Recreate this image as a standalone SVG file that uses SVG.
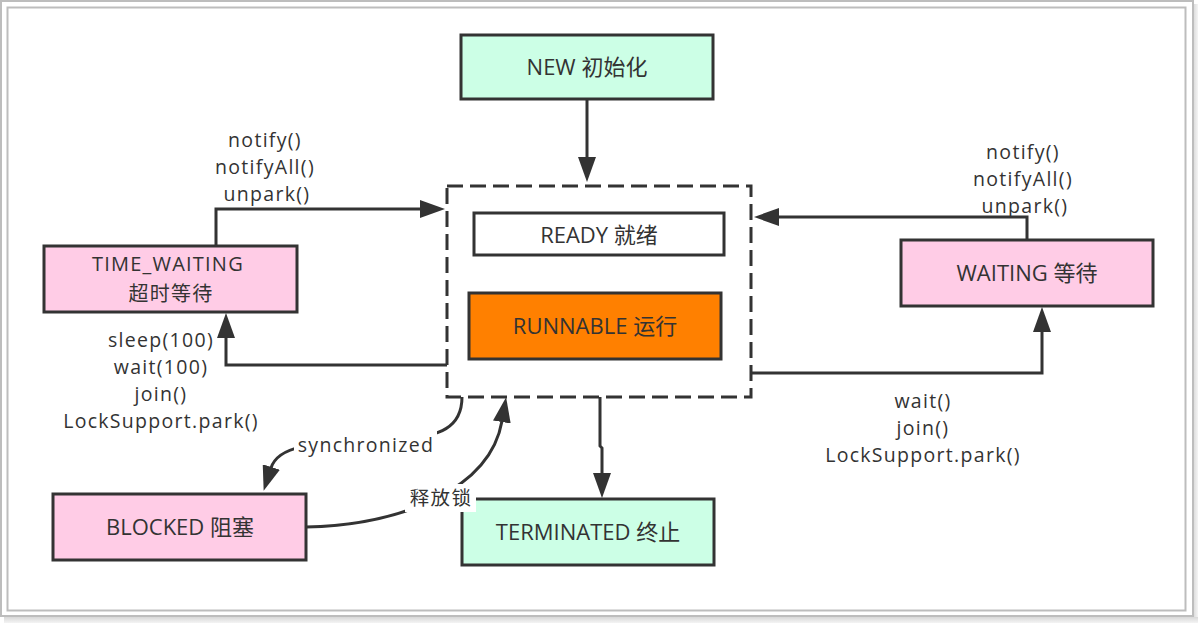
<svg xmlns="http://www.w3.org/2000/svg" width="1198" height="623" viewBox="0 0 1198 623">
<style>
.node{stroke:#333;stroke-width:3}
.t{font-family:"Open Sans","Noto Sans CJK SC",sans-serif;font-size:22px;fill:#333;text-anchor:middle}
.l{font-family:"Open Sans","Noto Sans CJK SC",sans-serif;font-size:19.5px;letter-spacing:1.3px;fill:#333;text-anchor:middle}
.s{font-family:"Open Sans","Noto Sans CJK SC",sans-serif;font-size:20px;letter-spacing:1.2px;fill:#333;text-anchor:middle}
.c{fill:none;stroke:#333;stroke-width:3}
.frame{fill:none;stroke:#bdbdbd;stroke-width:2}
</style>
<defs>
<marker id="ah" markerUnits="userSpaceOnUse" markerWidth="26" markerHeight="18" refX="1" refY="9" orient="auto" viewBox="0 0 26 18">
<path d="M0,0 L25,9 L0,18 z" fill="#333"/>
</marker>
<linearGradient id="shR" x1="0" y1="0" x2="1" y2="0"><stop offset="0" stop-color="#d8d8d8"/><stop offset="1" stop-color="#f4f4f4"/></linearGradient>
<linearGradient id="shB" x1="0" y1="0" x2="0" y2="1"><stop offset="0" stop-color="#d8d8d8"/><stop offset="1" stop-color="#f4f4f4"/></linearGradient>
</defs>
<rect width="1198" height="623" fill="#fff"/>
<rect x="1193" y="4" width="5" height="619" fill="url(#shR)"/>
<rect x="4" y="617" width="1194" height="6" fill="url(#shB)"/>
<rect class="frame" x="1" y="1" width="1192" height="615"/>
<rect class="frame" x="7.5" y="7.5" width="1178" height="603"/>

<g id="container">
<rect x="447" y="186" width="304" height="211" fill="none" stroke="#333" stroke-width="3" stroke-dasharray="16 7"/>
</g>
<g id="new"><rect class="node" x="461" y="35" width="252" height="64" fill="#ccffe6"/><text class="t" x="587" y="75">NEW 初始化</text></g>
<g id="ready"><rect class="node" x="474" y="213" width="250" height="42" fill="#fff"/><text class="t" x="599" y="243">READY 就绪</text></g>
<g id="runnable"><rect class="node" x="469" y="293" width="252" height="66" fill="#ff8000"/><text class="t" x="595" y="334">RUNNABLE 运行</text></g>
<g id="time_waiting"><rect class="node" x="44" y="246" width="253" height="66" fill="#ffcce6"/><text class="s" x="168" y="271">TIME_WAITING</text><text class="s" x="171" y="301">超时等待</text></g>
<g id="waiting"><rect class="node" x="901" y="240" width="252" height="66" fill="#ffcce6"/><text class="t" x="1027" y="281">WAITING 等待</text></g>
<g id="blocked"><rect class="node" x="53" y="494" width="253" height="66" fill="#ffcce6"/><text class="t" x="180" y="535">BLOCKED 阻塞</text></g>
<g id="terminated"><rect class="node" x="462" y="499" width="252" height="66" fill="#ccffe6"/><text class="t" x="588" y="540">TERMINATED 终止</text></g>

<g id="connectors">
<path class="c" d="M587,100 V158" marker-end="url(#ah)"/>
<path class="c" d="M216,246 V209 H421" marker-end="url(#ah)"/>
<path class="c" d="M1027,240 V217 H778" marker-end="url(#ah)"/>
<path class="c" d="M447,365 H226 V337" marker-end="url(#ah)"/>
<path class="c" d="M751,373 H1042 V331" marker-end="url(#ah)"/>
<path class="c" d="M600,397 V446 L602,448 V474" marker-end="url(#ah)"/>
<path class="c" d="M462,397 C462,428 440,436 400,440 C330,444 280,440 271,468" marker-end="url(#ah)"/>
<path class="c" d="M306,527 C400,525 490,490 502,421" marker-end="url(#ah)"/>
<rect x="294" y="430" width="143" height="28" fill="#fff"/>
<text class="l" x="366" y="452">synchronized</text>
<rect x="405" y="484" width="71" height="28" fill="#fff"/>
<text class="l" x="441" y="505">释放锁</text>
<text class="l" x="265" y="147">notify()</text>
<text class="l" x="265" y="174">notifyAll()</text>
<text class="l" x="267" y="201">unpark()</text>
<text class="l" x="1023" y="159">notify()</text>
<text class="l" x="1023" y="186">notifyAll()</text>
<text class="l" x="1025" y="213">unpark()</text>
<text class="l" x="161" y="347">sleep(100)</text>
<text class="l" x="161" y="374">wait(100)</text>
<text class="l" x="161" y="401">join()</text>
<text class="l" x="161" y="428">LockSupport.park()</text>
<text class="l" x="923" y="408">wait()</text>
<text class="l" x="923" y="435">join()</text>
<text class="l" x="923" y="462">LockSupport.park()</text>
</g>
</svg>
